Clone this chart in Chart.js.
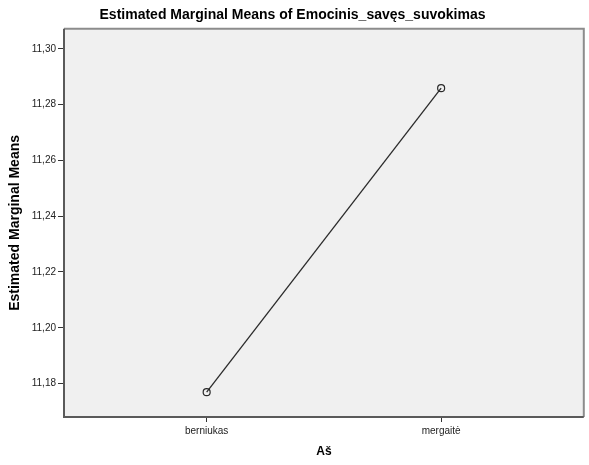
<!DOCTYPE html>
<html>
<head>
<meta charset="utf-8">
<script src="https://cdn.jsdelivr.net/npm/chart.js@4/dist/chart.umd.min.js"></script>
<style>
  html, body { margin: 0; padding: 0; background: #ffffff; }
  #wrap { width: 589px; height: 465px; }
</style>
</head>
<body>
<div id="wrap"><canvas id="c" width="589" height="465"></canvas></div>
<script>
const categories = ["berniukas", "mergaitė"];
const means = [11.1769, 11.2859];
const yTickValues = [11.18, 11.20, 11.22, 11.24, 11.26, 11.28, 11.30];
const chartTitle = "Estimated Marginal Means of Emocinis_savęs_suvokimas";
const xTitle = "Aš";
const yTitle = "Estimated Marginal Means";

const plotFrame = {
  id: 'plotFrame',
  beforeDatasetsDraw(chart) {
    const { ctx, chartArea: a } = chart;
    ctx.save();
    ctx.fillStyle = '#f0f0f0';
    ctx.fillRect(a.left, a.top, a.right - a.left, a.bottom - a.top);
    ctx.lineWidth = 2;
    ctx.strokeStyle = '#8c8c8c';
    ctx.beginPath();
    ctx.moveTo(a.left, a.top);
    ctx.lineTo(a.right, a.top);
    ctx.lineTo(a.right, a.bottom);
    ctx.stroke();
    ctx.strokeStyle = '#5a5a5a';
    ctx.beginPath();
    ctx.moveTo(a.left, a.top);
    ctx.lineTo(a.left, a.bottom);
    ctx.lineTo(a.right, a.bottom);
    ctx.stroke();
    ctx.restore();
  }
};

new Chart(document.getElementById('c'), {
  type: 'line',
  data: {
    datasets: [{
      data: categories.map((c, i) => ({ x: i, y: means[i] })),
      borderColor: '#2a2a2a',
      borderWidth: 1.3,
      pointRadius: 3.5,
      pointBorderWidth: 1.2,
      pointBackgroundColor: 'rgba(0,0,0,0)',
      pointBorderColor: '#2a2a2a',
      tension: 0,
      fill: false
    }]
  },
  plugins: [plotFrame],
  options: {
    responsive: false,
    animation: false,
    devicePixelRatio: 1,
    layout: { padding: { left: 0, right: 4, top: 0, bottom: 0 } },
    plugins: {
      legend: { display: false },
      tooltip: { enabled: false },
      title: {
        display: true,
        text: chartTitle,
        color: '#000000',
        font: { family: 'Liberation Sans, Arial, sans-serif', size: 14, weight: 'bold' },
        padding: { top: 7, bottom: 5 }
      }
    },
    scales: {
      x: {
        type: 'linear',
        min: -0.6085,
        max: 1.6085,
        afterBuildTicks(s) { s.ticks = categories.map((c, i) => ({ value: i })); },
        afterFit(s) { s.height = 48; },
        ticks: {
          callback: (v) => categories[v],
          color: '#222222',
          font: { family: 'Liberation Sans, Arial, sans-serif', size: 10 },
          padding: 3,
          maxRotation: 0,
          autoSkip: false
        },
        grid: { display: true, drawOnChartArea: false, drawTicks: true, tickLength: 5, color: '#333333' },
        border: { display: false },
        title: {
          display: true,
          text: xTitle,
          color: '#000000',
          font: { family: 'Liberation Sans, Arial, sans-serif', size: 12, weight: 'bold' },
          padding: { top: 0, bottom: 6 }
        }
      },
      y: {
        type: 'linear',
        min: 11.168,
        max: 11.3072,
        afterBuildTicks(s) { s.ticks = yTickValues.map(v => ({ value: v })); },
        afterFit(s) { s.width = 64; },
        ticks: {
          callback: (v) => v.toFixed(2).replace('.', ','),
          color: '#222222',
          font: { family: 'Liberation Sans, Arial, sans-serif', size: 10 },
          padding: 2,
          autoSkip: false
        },
        grid: { display: true, drawOnChartArea: false, drawTicks: true, tickLength: 6, color: '#333333' },
        border: { display: false },
        title: {
          display: true,
          text: yTitle,
          color: '#000000',
          font: { family: 'Liberation Sans, Arial, sans-serif', size: 14, weight: 'bold' },
          padding: { top: 7, bottom: 0 }
        }
      }
    }
  }
});
</script>
</body>
</html>
